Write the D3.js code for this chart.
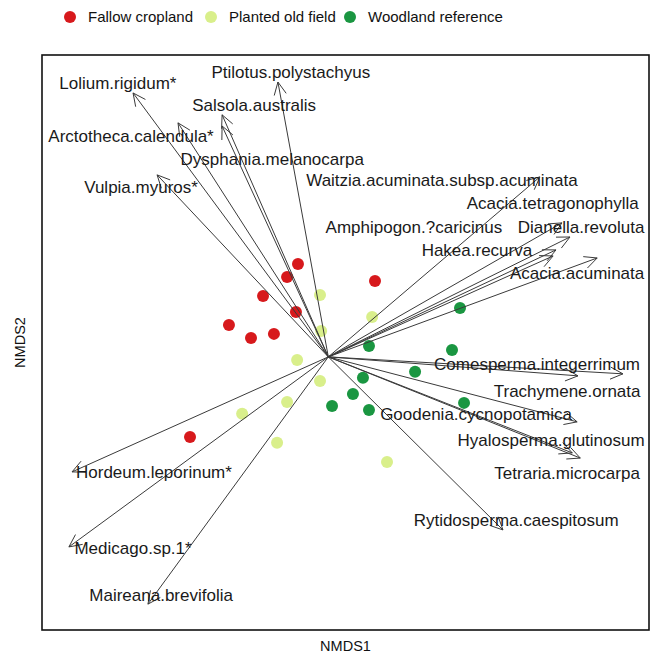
<!DOCTYPE html>
<html>
<head>
<meta charset="utf-8">
<script src="https://cdn.jsdelivr.net/npm/d3@7"></script>
<style>
  body { margin: 0; background: #fff; }
  text { font-family: "Liberation Sans", Arial, sans-serif; }
</style>
</head>
<body>
<div id="main"></div>
<script>
// site scores (NMDS1, NMDS2)
const groups = ["Fallow cropland", "Planted old field", "Woodland reference"];
const groupColors = ["#d7191c", "#d9ef8b", "#1a9641"];

const fallowX = [-0.106, -0.144, 0.163, -0.228, -0.113, -0.347, -0.270, -0.190, -0.483];
const fallowY = [0.323, 0.278, 0.264, 0.212, 0.156, 0.111, 0.066, 0.080, -0.279];
const plantedX = [-0.029, 0.153, -0.025, -0.109, -0.029, -0.144, -0.301, -0.179, 0.205];
const plantedY = [0.215, 0.139, 0.090, -0.011, -0.084, -0.157, -0.198, -0.299, -0.366];
const woodX = [0.460, 0.142, 0.432, 0.303, 0.121, 0.086, 0.013, 0.142, 0.474];
const woodY = [0.170, 0.038, 0.024, -0.052, -0.073, -0.129, -0.171, -0.185, -0.160];

// species vectors
const species = [
  "Lolium.rigidum*", "Ptilotus.polystachyus", "Salsola.australis", "Arctotheca.calendula*",
  "Dysphania.melanocarpa", "Vulpia.myuros*", "Waitzia.acuminata.subsp.acuminata",
  "Acacia.tetragonophylla", "Dianella.revoluta", "Amphipogon.?caricinus", "Hakea.recurva",
  "Acacia.acuminata", "Comesperma.integerrimum", "Trachymene.ornata", "Goodenia.cycnopotamica",
  "Hyalosperma.glutinosum", "Tetraria.microcarpa", "Rytidosperma.caespitosum",
  "Hordeum.leporinum*", "Medicago.sp.1*", "Maireana.brevifolia"
];
const vecX = [-0.682, -0.176, -0.371, -0.525, -0.371, -0.598, 0.739, 0.816, 0.844, 0.795, 0.785,
  0.939, 1.029, 0.872, 0.869, 0.880, 0.852, 0.610, -0.895, -0.906, -0.630];
const vecY = [0.918, 0.956, 0.842, 0.814, 0.803, 0.633, 0.626, 0.466, 0.417, 0.372, 0.351,
  0.344, -0.059, -0.066, -0.226, -0.352, -0.334, -0.602, -0.400, -0.661, -0.860];
// label centres (NMDS units)
const labX = [-0.735, -0.131, -0.259, -0.689, -0.196, -0.654, 0.397, 0.784, 0.883, 0.299, 0.519,
  0.869, 0.729, 0.834, 0.516, 0.778, 0.834, 0.656, -0.609, -0.682, -0.584];
const labY = [0.953, 0.991, 0.876, 0.767, 0.689, 0.591, 0.616, 0.536, 0.452, 0.452, 0.372,
  0.292, -0.025, -0.118, -0.199, -0.289, -0.403, -0.567, -0.400, -0.665, -0.828];

const width = 656;
const height = 657;
const box = { left: 42, right: 649, top: 55, bottom: 630 };

const x = d3.scaleLinear().domain([-1.0, 1.12]).range([box.left, box.right]);
const y = d3.scaleLinear().domain([-0.95, 1.05]).range([box.bottom, box.top]);

const svg = d3.select("#main")
  .append("svg")
  .attr("width", width)
  .attr("height", height);

// legend
const legendX = [70, 211, 350];
const legend = svg.append("g").selectAll("g")
  .data(groups)
  .enter()
  .append("g")
  .attr("transform", (d, i) => "translate(" + legendX[i] + ",17)");
legend.append("circle")
  .attr("r", 6)
  .attr("fill", (d, i) => groupColors[i]);
legend.append("text")
  .attr("x", 18)
  .attr("dy", "0.35em")
  .style("font-size", "15px")
  .attr("fill", "#111")
  .text(d => d);

// points
const sites = [
  { x: fallowX, y: fallowY },
  { x: plantedX, y: plantedY },
  { x: woodX, y: woodY }
];
sites.forEach((s, g) => {
  svg.append("g")
    .selectAll("circle")
    .data(s.x)
    .enter()
    .append("circle")
    .attr("cx", d => x(d))
    .attr("cy", (d, i) => y(s.y[i]))
    .attr("r", 6)
    .attr("fill", groupColors[g]);
});

// arrows
const x0 = x(0);
const y0 = y(0);
const headLen = 14;
const headAng = Math.PI / 7;

const arrows = svg.append("g")
  .attr("stroke", "#3a3a3a")
  .attr("stroke-width", 1)
  .attr("fill", "none");

arrows.selectAll("path")
  .data(species)
  .enter()
  .append("path")
  .attr("d", (d, i) => {
    const tx = x(vecX[i]);
    const ty = y(vecY[i]);
    const a = Math.atan2(ty - y0, tx - x0);
    const p1 = [tx - headLen * Math.cos(a - headAng), ty - headLen * Math.sin(a - headAng)];
    const p2 = [tx - headLen * Math.cos(a + headAng), ty - headLen * Math.sin(a + headAng)];
    return "M" + x0 + "," + y0 + "L" + tx + "," + ty +
      "M" + p1[0] + "," + p1[1] + "L" + tx + "," + ty + "L" + p2[0] + "," + p2[1];
  });

// species labels
svg.append("g")
  .selectAll("text")
  .data(species)
  .enter()
  .append("text")
  .attr("x", (d, i) => x(labX[i]))
  .attr("y", (d, i) => y(labY[i]))
  .attr("text-anchor", "middle")
  .attr("dy", "0.35em")
  .style("font-size", "17px")
  .attr("fill", "#1a1a1a")
  .text(d => d);

// frame
svg.append("rect")
  .attr("x", box.left)
  .attr("y", box.top)
  .attr("width", box.right - box.left)
  .attr("height", box.bottom - box.top)
  .attr("fill", "none")
  .attr("stroke", "#111")
  .attr("stroke-width", 1.6);

// axis titles
svg.append("text")
  .attr("x", (box.left + box.right) / 2)
  .attr("y", 646)
  .attr("text-anchor", "middle")
  .attr("dy", "0.35em")
  .style("font-size", "14.5px")
  .attr("fill", "#111")
  .text("NMDS1");

svg.append("text")
  .attr("transform", "translate(20," + (box.top + box.bottom) / 2 + ") rotate(-90)")
  .attr("text-anchor", "middle")
  .attr("dy", "0.35em")
  .style("font-size", "14.5px")
  .attr("fill", "#111")
  .text("NMDS2");
</script>
</body>
</html>
